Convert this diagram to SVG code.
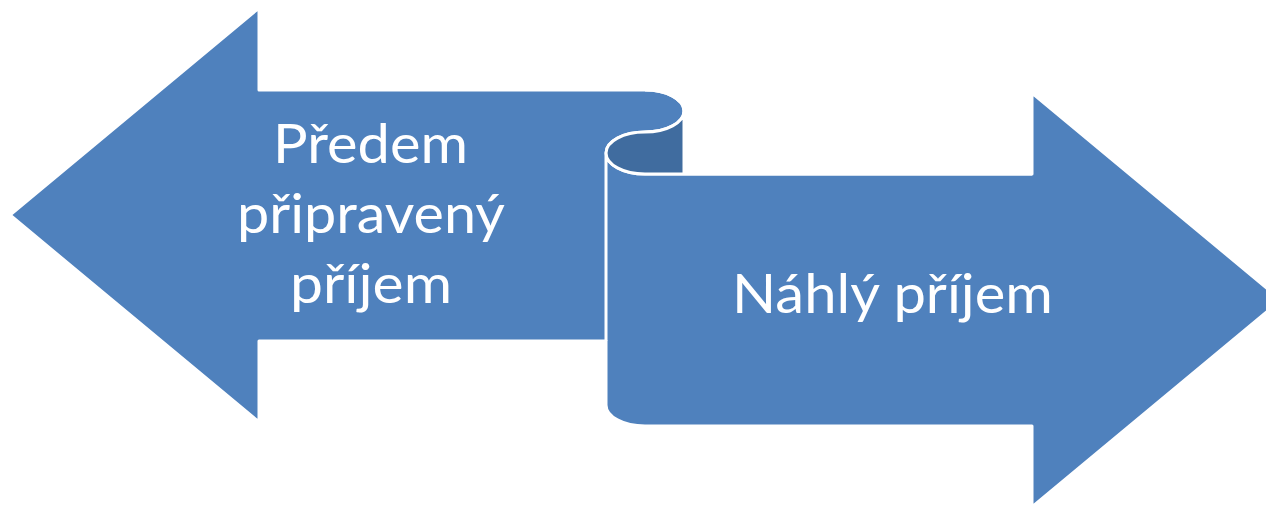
<svg xmlns="http://www.w3.org/2000/svg" width="1266" height="508" viewBox="0 0 1266 508">
<style>
.shape{fill:#4F81BD;stroke:#FFFFFF;stroke-width:3;stroke-linejoin:round}
.dark{fill:#406C9F;stroke:none}
.edge{fill:none;stroke:#FFFFFF;stroke-width:3}
.lbl{font-family:Lato,"Open Sans","Liberation Sans",sans-serif;font-size:55px;fill:#FFFFFF;text-anchor:middle}
</style>
<rect width="1266" height="508" fill="#FFFFFF"/>
<g id="ribbon">
<path class="shape" d="M 10 215 L 259 8 L 259 90 L 645 90 A 39 21 0 0 1 645 132 A 39 21 0 0 0 645 174 L 1032 174 L 1032 93 L 1281 300 L 1032 507 L 1032 426 L 645 426 A 39 21 0 0 1 606 405 L 606 341 L 259 341 L 259 422 Z"/>
<path class="dark" d="M 684 111 A 39 21 0 0 1 645 132 A 39 21 0 0 0 645 174 L 684 174 Z"/>
<path class="edge" d="M 645 90 A 39 21 0 0 1 645 132 A 39 21 0 0 0 645 174 L 1032 174 M 684 111 L 684 174 M 606 153 L 606 341"/>
</g>
<g id="node-left">
<text class="lbl" x="370.5" y="163" textLength="195" lengthAdjust="spacingAndGlyphs">Předem</text>
<text class="lbl" x="371" y="233" textLength="268" lengthAdjust="spacingAndGlyphs">připravený</text>
<text class="lbl" x="371" y="303" textLength="162" lengthAdjust="spacingAndGlyphs">příjem</text>
</g>
<g id="node-right">
<text class="lbl" x="892.5" y="313" textLength="321" lengthAdjust="spacingAndGlyphs">Náhlý příjem</text>
</g>
</svg>
